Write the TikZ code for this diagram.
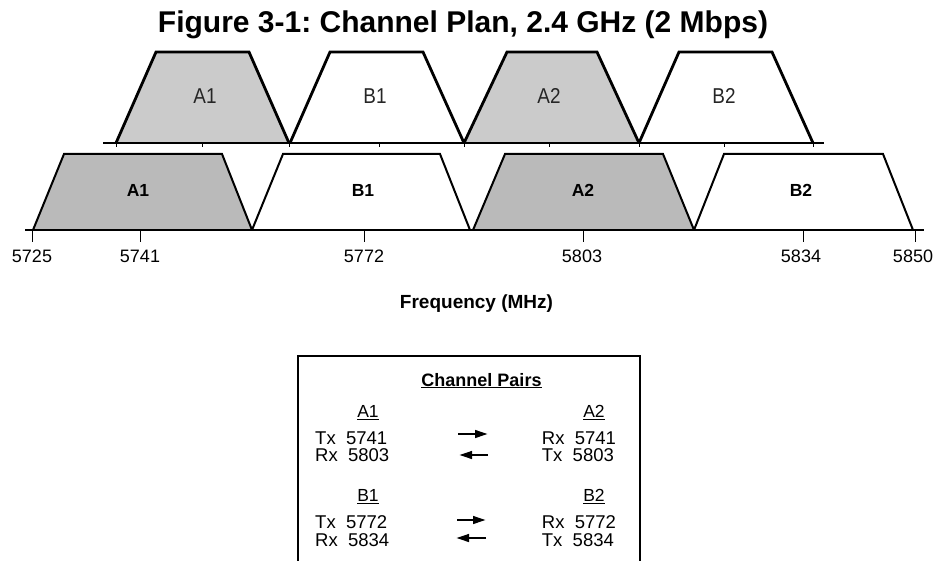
\documentclass[tikz,border=0pt]{standalone}
\usepackage{fontspec}
\setmainfont{Liberation Sans}
\usetikzlibrary{arrows.meta}
\definecolor{upfill}{HTML}{CBCBCB}
\definecolor{lowfill}{HTML}{BABABA}
\definecolor{uptext}{HTML}{262626}
\frenchspacing
\begin{document}
\begin{tikzpicture}[x=1pt,y=-1pt,
  upline/.style={line width=2.8pt,line join=miter},
  lowline/.style={line width=2pt,line join=miter},
  axisline/.style={line width=1.3pt},
  tickline/.style={line width=1pt},
  uplabel/.style={font=\fontsize{21.5}{24}\selectfont,text=uptext,xscale=0.88,anchor=base,inner sep=0pt},
  lowlabel/.style={font=\bfseries\fontsize{17.5}{20}\selectfont,anchor=base,inner sep=0pt},
  ticklabel/.style={font=\fontsize{18}{20}\selectfont,anchor=base,inner sep=0pt},
  boxtext/.style={font=\fontsize{18.5}{20}\selectfont,anchor=base west,inner sep=0pt},
  boxhead/.style={font=\fontsize{17.5}{20}\selectfont,anchor=base,inner sep=0pt},
  pairarrow/.style={line width=2.6pt,-{Triangle[length=13pt,width=7.5pt]}}
]
\useasboundingbox (0,0) rectangle (936,561);

% title
\node[font=\bfseries\fontsize{30}{34}\selectfont,anchor=base,inner sep=0pt] (title) at (463,33) {Figure 3-1: Channel Plan, 2.4 GHz (2 Mbps)};

% upper row
\fill[upfill] (116,143) -- (156,52) -- (249,52) -- (289,143) -- cycle;
\fill[upfill] (464,143) -- (507,52) -- (597,52) -- (639,143) -- cycle;
\draw[axisline] (103,143) -- (824,143);
\foreach \x in {116,202,289,379,464,549,639,724,813}
  \draw[tickline] (\x,143) -- (\x,147);
\draw[upline] (116,143) -- (156,52) -- (249,52) -- (289,143);
\draw[upline] (290,143) -- (330,52) -- (423,52) -- (464,143);
\draw[upline] (464,143) -- (507,52) -- (597,52) -- (639,143);
\draw[upline] (639,143) -- (679,52) -- (772,52) -- (813,143);
\node[uplabel] (uA1) at (205,103.3) {A1};
\node[uplabel] (uB1) at (375,103.3) {B1};
\node[uplabel] (uA2) at (549,103.3) {A2};
\node[uplabel] (uB2) at (724,103.3) {B2};

% lower row
\fill[lowfill] (33,230) -- (64,154) -- (222,154) -- (252,230) -- cycle;
\fill[lowfill] (473,230) -- (505,154) -- (663,154) -- (694,230) -- cycle;
\draw[axisline] (25,230) -- (924,230);
\foreach \x in {32,140,364,583,803,915}
  \draw[tickline] (\x,230) -- (\x,242);
\draw[lowline] (33,230) -- (64,154) -- (222,154) -- (252,230);
\draw[lowline] (252,230) -- (283,154) -- (440,154) -- (470,230);
\draw[lowline] (473,230) -- (505,154) -- (663,154) -- (694,230);
\draw[lowline] (694,230) -- (724,154) -- (883,154) -- (913,230);
\node[lowlabel] (lA1) at (138,196.7) {A1};
\node[lowlabel] (lB1) at (363,196.7) {B1};
\node[lowlabel] (lA2) at (583,196.7) {A2};
\node[lowlabel] (lB2) at (801,196.7) {B2};

% tick labels
\node[ticklabel] (t5725) at (32,262.5) {5725};
\node[ticklabel] (t5741) at (140,262.5) {5741};
\node[ticklabel] (t5772) at (364,262.5) {5772};
\node[ticklabel] (t5803) at (582,262.5) {5803};
\node[ticklabel] (t5834) at (801,262.5) {5834};
\node[ticklabel] (t5850) at (913,262.5) {5850};
\node[font=\bfseries\fontsize{19}{22}\selectfont,anchor=base,inner sep=0pt] (freq) at (476.5,308) {Frequency (MHz)};

% channel pairs box
\draw[line width=2pt] (298,563) -- (298,356) -- (640,356) -- (640,563);
\node[font=\bfseries\fontsize{18}{20}\selectfont,anchor=base,inner sep=0pt] (cp) at (481.5,386) {\underline{Channel Pairs}};

\node[boxhead] (hA1) at (368,417.3) {\underline{A1}};
\node[boxtext] (a1tx) at (315,444) {Tx\ \ 5741};
\node[boxtext] (a1rx) at (315,461.7) {Rx\ \ 5803};
\node[boxhead] (hB1) at (368,501.7) {\underline{B1}};
\node[boxtext] (b1tx) at (315,528.3) {Tx\ \ 5772};
\node[boxtext] (b1rx) at (315,546) {Rx\ \ 5834};

\node[boxhead] (hA2) at (594,417.3) {\underline{A2}};
\node[boxtext] (a2rx) at (541.7,444) {Rx\ \ 5741};
\node[boxtext] (a2tx) at (541.7,461.7) {Tx\ \ 5803};
\node[boxhead] (hB2) at (594,501.7) {\underline{B2}};
\node[boxtext] (b2rx) at (541.7,528.3) {Rx\ \ 5772};
\node[boxtext] (b2tx) at (541.7,546) {Tx\ \ 5834};

% arrows
\coordinate (ar1s) at (458,434);  \coordinate (ar1e) at (488,434);
\coordinate (al1s) at (488,455);  \coordinate (al1e) at (459,455);
\coordinate (ar2s) at (457,520);  \coordinate (ar2e) at (486,520);
\coordinate (al2s) at (486,538);  \coordinate (al2e) at (456,538);
\draw[pairarrow] (ar1s) -- (ar1e);
\draw[pairarrow] (al1s) -- (al1e);
\draw[pairarrow] (ar2s) -- (ar2e);
\draw[pairarrow] (al2s) -- (al2e);
\end{tikzpicture}
\end{document}
